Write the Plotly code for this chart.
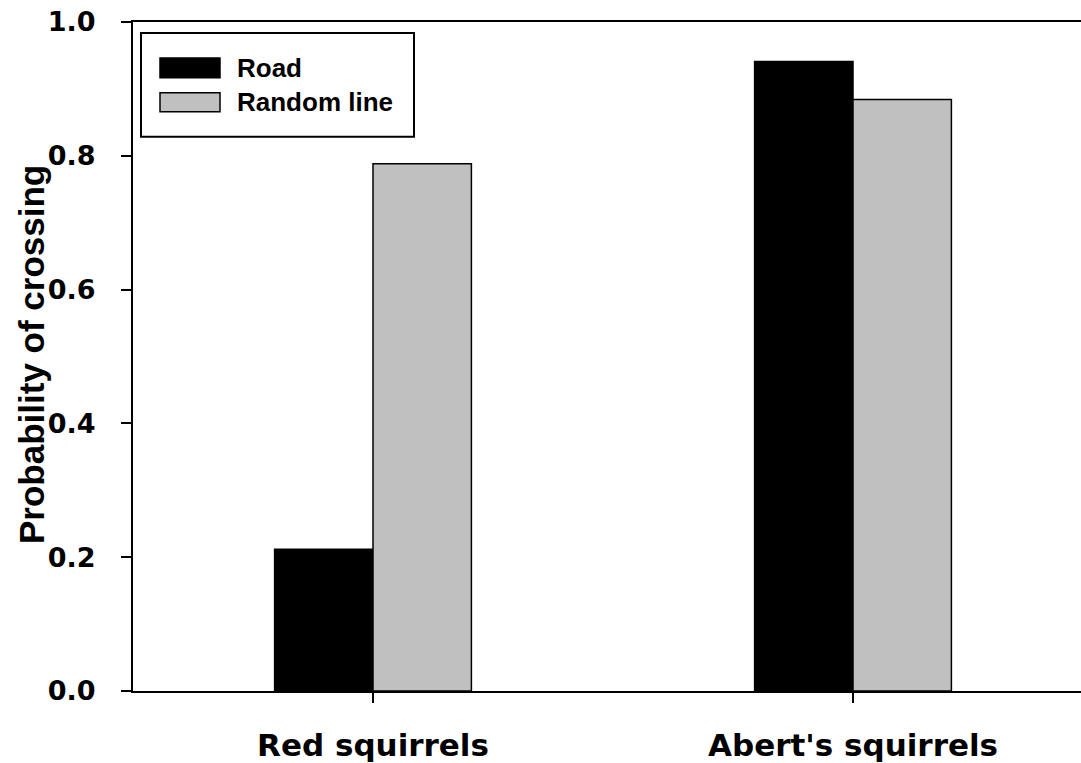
import plotly.graph_objects as go

categories = ["Red squirrels", "Abert's squirrels"]
road = [0.212, 0.941]
random_line = [0.788, 0.884]
series_names = ["Road", "Random line"]
series_colors = ["#000000", "#C0C0C0"]
y_ticks = [0.0, 0.2, 0.4, 0.6, 0.8, 1.0]
y_title = "Probability of crossing"

W, H = 1081, 763
L, R, T, B = 133, 0, 22, 70
PW, PH = W - L - R, H - T - B

def px_x(px):
    return (px - L) / PW

def px_y(py):
    return (H - B - py) / PH

fig = go.Figure()
for name, vals, col in zip(series_names, [road, random_line], series_colors):
    fig.add_trace(go.Bar(
        x=categories, y=vals, name=name,
        marker=dict(color=col, line=dict(color="#000000", width=1.5)),
        showlegend=False,
    ))

# manual legend
shapes = [dict(type="rect", xref="paper", yref="paper",
               x0=px_x(141), x1=px_x(414), y0=px_y(137), y1=px_y(33),
               line=dict(color="#000000", width=2), fillcolor="white", layer="above")]
annotations = []
legend_rows = [(58, 78), (93, 112)]
for (y0, y1), name, col in zip(legend_rows, series_names, series_colors):
    shapes.append(dict(type="rect", xref="paper", yref="paper",
                       x0=px_x(160), x1=px_x(220), y0=px_y(y1), y1=px_y(y0),
                       line=dict(color="#000000", width=1.5), fillcolor=col, layer="above"))
    annotations.append(dict(xref="paper", yref="paper", x=px_x(235), y=px_y((y0 + y1) / 2),
                            text="<b>%s</b>" % name, showarrow=False, xanchor="left", yanchor="middle",
                            font=dict(family="Liberation Sans, Arial", size=26, color="#000000")))

# y-axis title as rotated annotation
annotations.append(dict(xref="paper", yref="paper", x=px_x(31), y=px_y(356),
                        text="<b>%s</b>" % y_title, showarrow=False, textangle=-90,
                        xanchor="center", yanchor="middle",
                        font=dict(family="Liberation Sans, Arial", size=35, color="#000000")))

fig.update_layout(
    width=W, height=H,
    margin=dict(l=L, r=R, t=T, b=B, pad=0),
    paper_bgcolor="white", plot_bgcolor="white",
    barmode="group", bargap=0.59, bargroupgap=0,
    shapes=shapes, annotations=annotations,
    showlegend=False,
)
fig.update_xaxes(
    type="category", range=[-0.5, 1.475],
    showline=True, linecolor="#000000", linewidth=2, mirror=True,
    ticks="outside", ticklen=10, tickwidth=2, tickcolor="#000000",
    showgrid=False, zeroline=False,
    tickfont=dict(family="DejaVu Sans", size=31, color="#000000", weight="bold"),
    ticklabelstandoff=16,
)
fig.update_yaxes(
    range=[0, 1.0],
    tickvals=y_ticks, ticktext=["%.1f" % v for v in y_ticks],
    showline=True, linecolor="#000000", linewidth=2,
    ticks="outside", ticklen=10, tickwidth=2, tickcolor="#000000",
    showgrid=False, zeroline=False, ticklabeloverflow="allow",
    tickfont=dict(family="DejaVu Sans", size=27, color="#000000", weight="bold"),
    ticklabelstandoff=20,
)

fig.write_html("out.html", config={"displayModeBar": False},
               post_script="document.body.style.margin='0';document.body.style.overflow='hidden';")
